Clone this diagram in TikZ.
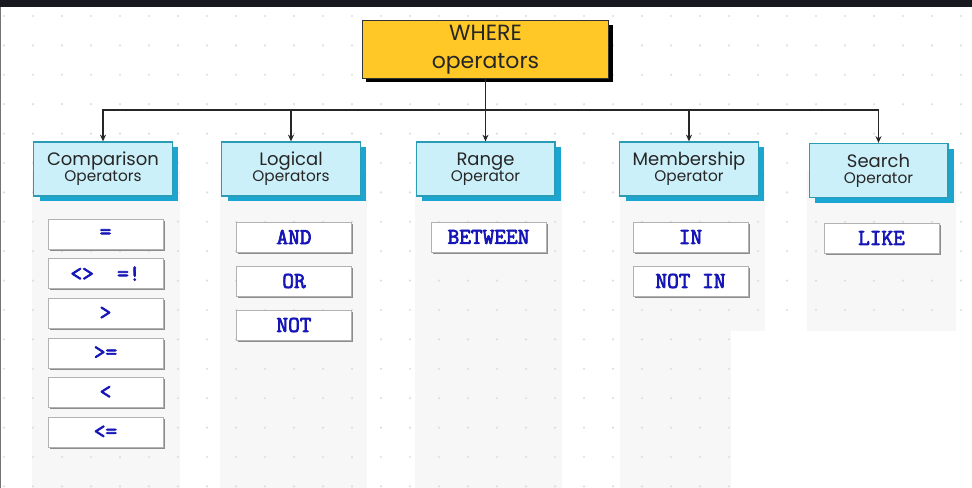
\documentclass[tikz,border=0pt]{standalone}
\usepackage{fontspec}
\newfontfamily\handfont{Poppins}
\newfontfamily\codefont{Latin Modern Mono}[FakeBold=3]
\usepackage{tikz}
\usetikzlibrary{arrows.meta,shadows}
\usepackage{xcolor}
\definecolor{whereyellow}{RGB}{255,200,38}
\definecolor{headfill}{RGB}{204,240,249}
\definecolor{headline}{RGB}{43,156,182}
\definecolor{headshadow}{RGB}{27,166,210}
\definecolor{sqlblue}{RGB}{22,22,184}
\definecolor{panelgray}{RGB}{247,247,247}
\definecolor{dotgray}{RGB}{222,222,222}
\definecolor{topbar}{RGB}{23,25,31}

\begin{document}
\begin{tikzpicture}[x=0.75pt,y=-0.75pt,
    wherebox/.style={draw=black!80, line width=0.8pt, fill=whereyellow, minimum width=185pt, minimum height=43pt,
        inner sep=0pt, align=center, font=\handfont\fontsize{16.5}{21}\selectfont, text=black!85,
        drop shadow={shadow xshift=3pt, shadow yshift=-3pt, fill=black, opacity=1}},
    header/.style={draw=headline, line width=1pt, fill=headfill, minimum width=104pt, minimum height=40.5pt,
        inner sep=0pt, align=center, font=\handfont\fontsize{13.5}{15}\selectfont, text=black!85,
        drop shadow={shadow xshift=4.5pt, shadow yshift=-4pt, fill=headshadow, opacity=1}},
    opbox/.style={draw=black!30, fill=white, minimum width=86pt, minimum height=22.5pt, inner sep=0pt,
        font=\codefont\fontsize{17}{18}\selectfont, text=sqlblue,
        drop shadow={shadow xshift=1.3pt, shadow yshift=-1.3pt, fill=black!45, opacity=1}},
    link/.style={-{Stealth[length=5pt,width=4.5pt]}, line width=1pt, black!85}]
    \useasboundingbox (0,0) rectangle (972,488);

    % screen frame and column panels
    \fill[topbar] (0,0) rectangle (972,7);
    \fill[black!55] (0,7) rectangle (1.5,488);
    \foreach \xa/\xb in {32/180, 220/367, 415/562, 620/765, 807/956}
        \fill[panelgray] (\xa,170) rectangle (\xb,488);

    % dotted grid
    \foreach \i in {0,...,33} {
        \foreach \j in {0,...,16} {
            \fill[dotgray] (4+29*\i, 16+29.4*\j) circle (0.9pt);
        }
    }
    \fill[white] (731,331) rectangle (972,488);

    % top node and groups
    \node[wherebox] (where) at (485.5,49.5) {WHERE\\operators};
    \node[header] (comp)   at (103,169)   {Comparison\\[-3pt]{\fontsize{11.5}{12}\selectfont Operators}};
    \node[header] (logic)  at (291,169)   {Logical\\[-3pt]{\fontsize{11.5}{12}\selectfont Operators}};
    \node[header] (range)  at (485.5,169) {Range\\[-3pt]{\fontsize{11.5}{12}\selectfont Operator}};
    \node[header] (member) at (689,169)   {Membership\\[-3pt]{\fontsize{11.5}{12}\selectfont Operator}};
    \node[header] (search) at (878.5,170.5) {Search\\[-3pt]{\fontsize{11.5}{12}\selectfont Operator}};

    \coordinate (bus) at (485.5,110);
    \draw[link] (where.south) -- (range.north);
    \foreach \n in {comp,logic,member,search}
        \draw[link] (bus) -| (\n.north);

    % operators
    \foreach \t [count=\k] in {{=},{<>\ \ =!},{>},{>=},{<},{<=}} {
        \pgfmathsetmacro{\y}{234 + 39.6*(\k-1)}
        \node[opbox] (cmp\k) at (105.5,\y) {\t};
    }
    \foreach \t [count=\k] in {AND,OR,NOT} {
        \pgfmathsetmacro{\y}{237 + 44*(\k-1)}
        \node[opbox] (log\k) at (294,\y) {\t};
    }
    \node[opbox] (between) at (488.5,237) {BETWEEN};
    \node[opbox] (in)      at (690.5,237) {IN};
    \node[opbox] (notin)   at (690.5,281) {NOT IN};
    \node[opbox] (like)    at (881.5,238) {LIKE};
\end{tikzpicture}
\end{document}
